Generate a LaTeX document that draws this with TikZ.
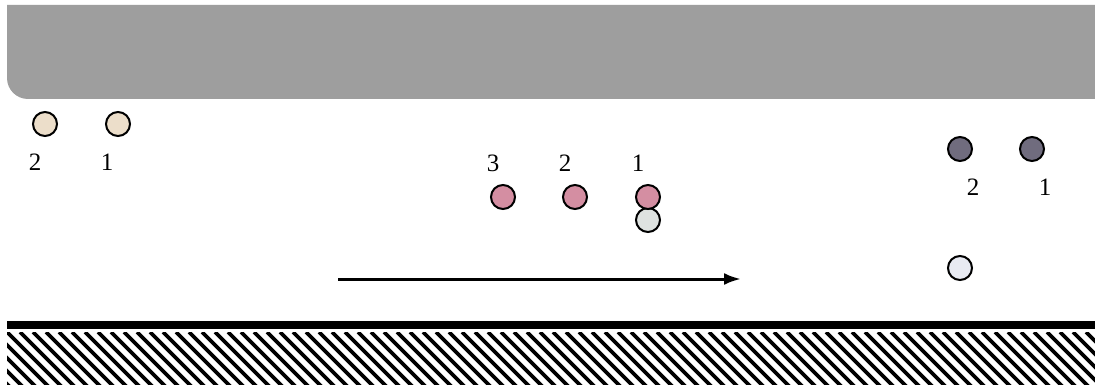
\documentclass[tikz,border=0pt]{standalone}
\usepackage{fontspec}
\setmainfont{Liberation Serif}
\usetikzlibrary{arrows.meta}
\definecolor{bandgray}{RGB}{158,158,158}
\definecolor{beige}{RGB}{236,222,202}
\definecolor{rose}{RGB}{212,142,162}
\definecolor{mist}{RGB}{222,226,224}
\definecolor{slate}{RGB}{112,108,126}
\definecolor{pale}{RGB}{232,234,242}
\begin{document}
\begin{tikzpicture}[x=1pt,y=-1pt,
  ball/.style={circle,draw=black,line width=2pt,minimum size=24pt,inner sep=0pt},
  num/.style={inner sep=0pt,font=\fontsize{25}{25}\selectfont}]
\useasboundingbox (0,0) rectangle (1095,385);
\fill[white] (0,0) rectangle (1095,385);
% upper gray band with rounded lower-left corner
\fill[bandgray] (7,5) -- (1095,5) -- (1095,99) -- (28,99) arc[start angle=90,end angle=180,radius=21] -- cycle;
% left group
\node[ball,fill=beige] (b2) at (45,124) {};
\node[ball,fill=beige] (b1) at (118,124) {};
\node[num] (lb2) at (35,162) {2};
\node[num] (lb1) at (107,162) {1};
% middle group
\node[ball,fill=rose] (p3) at (503,197) {};
\node[ball,fill=rose] (p2) at (575,197) {};
\node[ball,fill=mist] (m1) at (648,220) {};
\node[ball,fill=rose] (p1) at (648,197) {};
\node[num] (lp3) at (493,163) {3};
\node[num] (lp2) at (565,163) {2};
\node[num] (lp1) at (638,163) {1};
% right group
\node[ball,fill=slate] (d2) at (960,149) {};
\node[ball,fill=slate] (d1) at (1032,149) {};
\node[num] (ld2) at (973,187) {2};
\node[num] (ld1) at (1045,187) {1};
\node[ball,fill=pale] (w) at (960,268) {};
% direction of motion
\coordinate (as) at (338,279);
\coordinate (ae) at (741,279);
\draw[line width=3pt,-{Latex[length=17pt,width=12pt]}] (as) -- (ae);
% wall surface and hatching
\fill[black] (7,320.5) rectangle (1095,328.5);
\begin{scope}
  \clip (7,332) rectangle (1095,385);
  \foreach \k in {-5,...,85}
    \draw[line width=3.8pt] (7+13*\k,332) -- ++(56,56);
\end{scope}
\end{tikzpicture}
\end{document}
